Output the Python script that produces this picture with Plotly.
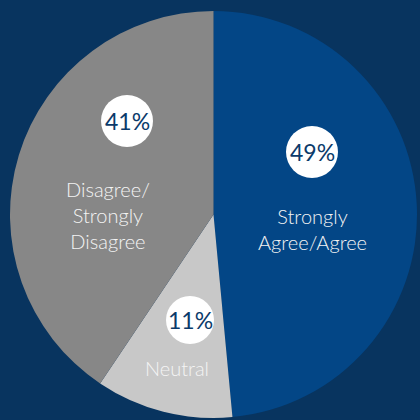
import plotly.graph_objects as go

# ── Data ─────────────────────────────────────────────
labels = ["Strongly Agree/Agree", "Neutral", "Disagree/Strongly Disagree"]
values = [49, 11, 41]
pct_text = ["49%", "11%", "41%"]
label_text = ["Strongly<br>Agree/Agree", "Neutral", "Disagree/<br>Strongly<br>Disagree"]

# ── Styling ──────────────────────────────────────────
BG = "#08345f"
COLORS = ["#034686", "#c8c8c8", "#878787"]
PCT_CLR = "#0b3a6a"
FONT = "Lato, Noto Sans, sans-serif"

W = H = 420
M = dict(l=10, r=3, t=11, b=2)
PW = W - M["l"] - M["r"]
PH = H - M["t"] - M["b"]


def px2paper(x, y):
    return (x - M["l"]) / PW, (H - M["b"] - y) / PH


# pixel positions of the badge / label for each slice
badge_pos = [(312, 152), (190, 320), (127, 121)]
badge_r = [26, 24, 26]
label_pos = [(312, 229), (177, 368), (108, 215)]

fig = go.Figure(go.Pie(
    labels=labels,
    values=values,
    sort=False,
    direction="clockwise",
    rotation=0,
    marker=dict(colors=COLORS, line=dict(width=0)),
    textinfo="none",
    hoverinfo="label+percent",
    showlegend=False,
    domain=dict(x=[0, 1], y=[0, 1]),
))

shapes = []
annotations = []
for (bx, by), r, t, (lx, ly), lt in zip(badge_pos, badge_r, pct_text, label_pos, label_text):
    ax, ay = px2paper(bx, by)
    shapes.append(dict(
        type="circle", xref="paper", yref="paper",
        xsizemode="pixel", ysizemode="pixel",
        xanchor=ax, yanchor=ay,
        x0=-r, x1=r, y0=-r, y1=r,
        fillcolor="white", line=dict(width=0), layer="above",
    ))
    annotations.append(dict(
        x=ax, y=ay, xref="paper", yref="paper", text=t, showarrow=False,
        font=dict(family=FONT, size=23, color=PCT_CLR, weight=400),
        xanchor="center", yanchor="middle",
    ))
    nx, ny = px2paper(lx, ly)
    annotations.append(dict(
        x=nx, y=ny, xref="paper", yref="paper", text=lt, showarrow=False,
        font=dict(family=FONT, size=20, color="#f4f4f4", weight=300),
        xanchor="center", yanchor="middle", align="center",
    ))

fig.update_layout(
    width=W, height=H,
    paper_bgcolor=BG,
    plot_bgcolor=BG,
    margin=dict(**M, pad=0),
    shapes=shapes,
    annotations=annotations,
)

fig.write_html(
    "out.html",
    config={"displayModeBar": False},
    post_script="document.body.style.margin='0';document.body.style.overflow='hidden';",
)
